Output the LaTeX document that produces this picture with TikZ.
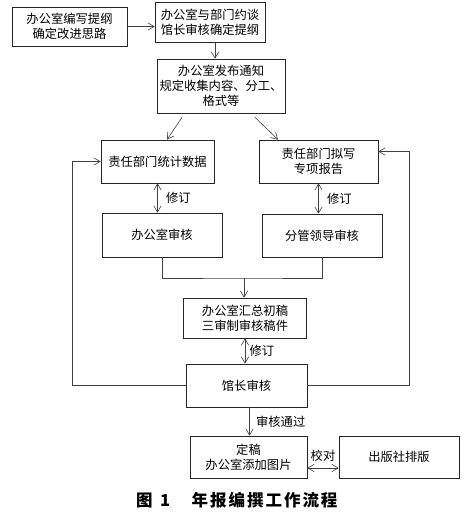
\documentclass[tikz,border=0pt]{standalone}
\usepackage{fontspec}
\setmainfont{Noto Sans CJK SC}
\usepackage{tikz}
\usetikzlibrary{positioning, arrows.meta, calc}

\begin{document}
\begin{tikzpicture}[x=1pt, y=-1pt,
    box/.style={rectangle, draw=black!85, line width=0.7pt, inner sep=1pt, align=center,
                font=\fontsize{12.3}{15}\selectfont},
    arr/.style={-{Straight Barb[length=2.2mm, width=2.6mm]}, line width=0.6pt, draw=black!75},
    dbl/.style={{Straight Barb[length=2.2mm, width=2.6mm]}-{Straight Barb[length=2.2mm, width=2.6mm]},
                line width=0.6pt, draw=black!75},
    ln/.style={line width=0.6pt, draw=black!75},
    lbl/.style={font=\fontsize{12.3}{14}\selectfont}
  ]
  \useasboundingbox (0,0) rectangle (472,522);
  \node[box, minimum width=115pt, minimum height=39pt] (outline) at (69.5,26.5) {办公室编写提纲\\确定改进思路};
  \node[box, minimum width=110pt, minimum height=40pt] (talk)    at (210,22.5)  {办公室与部门约谈\\馆长审核确定提纲};
  \node[box, minimum width=128pt, minimum height=54pt] (notice)  at (221,86)    {办公室发布通知\\规定收集内容、分工、\\格式等};
  \node[box, minimum width=113pt, minimum height=43pt] (data)    at (157.5,161.5) {责任部门统计数据};
  \node[box, minimum width=119pt, minimum height=43pt] (report)  at (318.5,161.5) {责任部门拟写\\专项报告};
  \node[box, minimum width=120pt, minimum height=44pt] (offrev)  at (162,235)   {办公室审核};
  \node[box, minimum width=120pt, minimum height=43pt] (leadrev) at (322,235.5) {分管领导审核};
  \node[box, minimum width=123pt, minimum height=40pt] (draft)   at (245,318)   {办公室汇总初稿\\三审制审核稿件};
  \node[box, minimum width=121pt, minimum height=43pt] (dirrev)  at (246.5,385.5) {馆长审核};
  \node[box, minimum width=117pt, minimum height=42pt] (final)   at (248.5,457) {定稿\\办公室添加图片};
  \node[box, minimum width=120pt, minimum height=42pt] (press)   at (399,457)   {出版社排版};
  \node[font=\fontsize{16.5}{18}\selectfont\bfseries, anchor=west, inner sep=0pt] (cap) at (136,500)
    {图\hspace{0.45em}1\hspace{1.3em}\addfontfeature{LetterSpace=12}年报编撰工作流程};

  \coordinate (lft) at (72,0);
  \coordinate (rgt) at (409,0);
  \coordinate (mrg) at (244,278);
  \coordinate (rin) at ([yshift=10pt]report.east);

  \draw[arr] (outline.east) -- (outline.east -| talk.west);
  \draw[arr] ([xshift=5pt]talk.south) -- ([xshift=5pt]talk.south |- notice.north);
  \draw[arr] ($(notice.south)+(-39,4)$) -- ([xshift=9.5pt]data.north);
  \draw[arr] ($(notice.south)+(34,4)$) -- ([xshift=-40.5pt]report.north);
  \draw[dbl] (data.south) -- (data.south |- offrev.north) node[midway, right=5pt, lbl] {修订};
  \draw[dbl] (report.south) -- (report.south |- leadrev.north) node[midway, right=5pt, lbl] {修订};
  \draw[ln] (offrev.south) |- (mrg) -| (leadrev.south);
  \draw[arr] (mrg) -- (mrg |- draft.north);
  \draw[dbl] (draft.south) -- (draft.south |- dirrev.north) node[midway, right=1pt, lbl] {修订};
  \draw[arr] (dirrev.west) -| (lft |- data.west) -- (data.west);
  \draw[arr] (dirrev.east) -| (rgt |- rin) -- (rin);
  \draw[arr] ([xshift=3pt]dirrev.south) -- ([xshift=3pt]dirrev.south |- final.north)
    node[midway, right=3pt, lbl] {审核通过};
  \draw[dbl] ([yshift=-11pt]final.east) -- ([yshift=-11pt]press.west)
    node[midway, above=3pt, lbl] {校对};
\end{tikzpicture}
\end{document}
